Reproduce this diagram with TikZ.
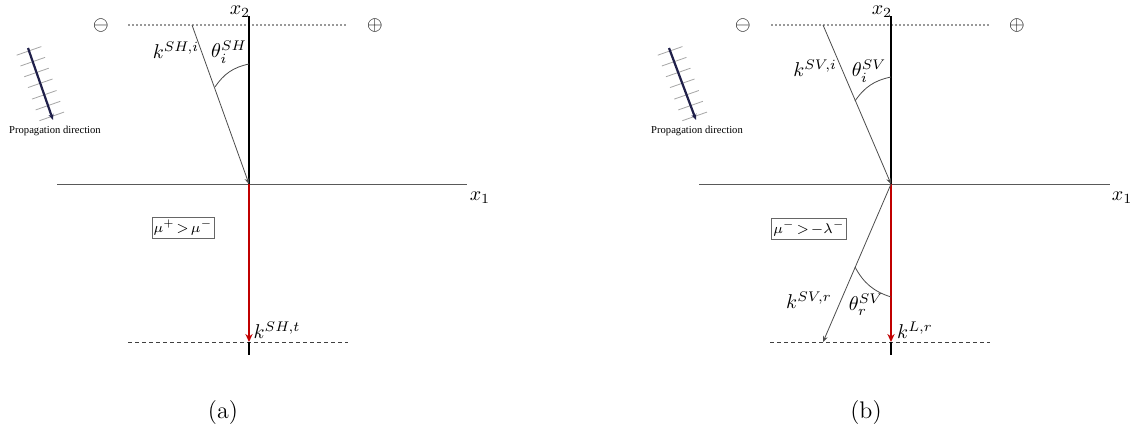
\documentclass[tikz,border=0pt]{standalone}
\usepackage{fontspec}
\newfontfamily\propfont{Liberation Serif}
\usetikzlibrary{arrows.meta,calc}
\definecolor{myred}{HTML}{C00000}
\definecolor{navy}{HTML}{20204A}
\tikzset{
  every node/.style={inner sep=0pt},
  axisline/.style={draw=black!65, line width=0.5pt},
  topdots/.style={draw=black!40, dash pattern=on 1pt off 1pt, line width=0.6pt},
  botdash/.style={draw=black!75, dash pattern=on 2pt off 1.5pt, line width=0.4pt},
  vline/.style={draw=black, line width=1.4pt},
  redvec/.style={draw=myred, line width=1.2pt, -{Stealth[length=4pt,width=3.6pt]}},
  thinvec/.style={draw=black!70, line width=0.4pt, -{Stealth[length=3pt,width=2.5pt]}},
  anglearc/.style={draw=black!70, line width=0.4pt},
  propvec/.style={draw=navy, line width=1.1pt, -{Stealth[length=3pt,width=2.5pt]}},
  hatch/.style={draw=black!35, line width=0.4pt},
  lab/.style={font=\fontsize{10}{12}\selectfont},
  proptext/.style={font=\propfont\fontsize{5.3}{6}\selectfont},
  condbox/.style={draw=black!60, line width=0.4pt, inner xsep=0.8pt, inner ysep=1.5pt, font=\fontsize{7.5}{8}\selectfont},
  caption/.style={font=\fontsize{12}{14}\selectfont},
}
\begin{document}
\begin{tikzpicture}[x=0.5pt,y=-0.5pt]
\useasboundingbox (0,0) rectangle (1143,429);

% ================= Panel (a) =================
\coordinate (aO) at (249,184);
\coordinate (aTop) at (249,16);
\coordinate (aRed) at (249,342);
\coordinate (aBot) at (249,355);
\coordinate (aL) at (57,184);
\coordinate (aR) at (467,184);
\coordinate (aDT1) at (128,25);
\coordinate (aDT2) at (347,25);
\coordinate (aDB1) at (128,342);
\coordinate (aDB2) at (348,342);
\coordinate (aI) at (192,25);
\coordinate (aA1) at (215,87);
\coordinate (aA2) at (249,64);
\coordinate (aP1) at (28,48);
\coordinate (aP2) at (53,120);

\draw[topdots] (aDT1) -- (aDT2);
\draw[botdash] (aDB1) -- (aDB2);
\draw[axisline] (aL) -- (aR);
\draw[vline] (aTop) -- (aO);
\draw[vline] (aRed) -- (aBot);
\draw[redvec] (aO) -- (aRed);
\draw[thinvec] (aI) -- (aO);
\draw[anglearc] (aA1) to[bend left=22] (aA2);
\foreach \t in {0.04,0.19,0.34,0.49,0.65,0.80,0.95}{
  \draw[hatch] ($(aP1)!\t!(aP2)+(-12.3,4.3)$) -- ($(aP1)!\t!(aP2)+(12.3,-4.3)$);
}
\draw[propvec] (aP1) -- (aP2);

\node[lab] (ax2) at (240,12) {$x_2$};
\node[lab] (ax1) at (480,198) {$x_1$};
\node[lab] (aminus) at (101,25) {$\ominus$};
\node[lab] (aplus) at (375,25) {$\oplus$};
\node[lab] (aki) at (176,50) {$k^{SH,i}$};
\node[lab] (ath) at (229,52) {$\theta_i^{SH}$};
\node[lab] (akt) at (277,330) {$k^{SH,t}$};
\node[condbox] (abox) at (183,228) {$\mu^{+}\mskip2mu{>}\mskip2mu\mu^{-}$};
\node[proptext] (aprop) at (55,131) {Propagation direction};
\node[caption] (acap) at (223,413) {(a)};

% ================= Panel (b) =================
\coordinate (bO) at (891,184);
\coordinate (bTop) at (891,16);
\coordinate (bRed) at (891,342);
\coordinate (bBot) at (891,355);
\coordinate (bL) at (699,184);
\coordinate (bR) at (1110,184);
\coordinate (bDT1) at (771,25);
\coordinate (bDT2) at (990,25);
\coordinate (bDB1) at (770,342);
\coordinate (bDB2) at (990,342);
\coordinate (bI) at (823,25);
\coordinate (bA1) at (855,101);
\coordinate (bA2) at (891,77);
\coordinate (bRf) at (823,342);
\coordinate (bB1) at (855,267);
\coordinate (bB2) at (891,297);
\coordinate (bP1) at (669,48);
\coordinate (bP2) at (696,120);

\draw[topdots] (bDT1) -- (bDT2);
\draw[botdash] (bDB1) -- (bDB2);
\draw[axisline] (bL) -- (bR);
\draw[vline] (bTop) -- (bO);
\draw[vline] (bRed) -- (bBot);
\draw[redvec] (bO) -- (bRed);
\draw[thinvec] (bI) -- (bO);
\draw[thinvec] (bO) -- (bRf);
\draw[anglearc] (bA1) to[bend left=22] (bA2);
\draw[anglearc] (bB1) to[bend right=22] (bB2);
\foreach \t in {0.04,0.19,0.34,0.49,0.65,0.80,0.95}{
  \draw[hatch] ($(bP1)!\t!(bP2)+(-12.3,4.3)$) -- ($(bP1)!\t!(bP2)+(12.3,-4.3)$);
}
\draw[propvec] (bP1) -- (bP2);

\node[lab] (bx2) at (882,12) {$x_2$};
\node[lab] (bx1) at (1122,198) {$x_1$};
\node[lab] (bminus) at (743,25) {$\ominus$};
\node[lab] (bplus) at (1017,25) {$\oplus$};
\node[lab] (bki) at (815,68) {$k^{SV,i}$};
\node[lab] (bth) at (869,71) {$\theta_i^{SV}$};
\node[lab] (bkr) at (809,300) {$k^{SV,r}$};
\node[lab] (bthr) at (866,305) {$\theta_r^{SV}$};
\node[lab] (bkl) at (915,330) {$k^{L,r}$};
\node[condbox] (bbox) at (809,229) {$\mu^{-}\mskip2mu{>}\mskip2mu{-}\lambda^{-}$};
\node[proptext] (bprop) at (697,131) {Propagation direction};
\node[caption] (bcap) at (866,413) {(b)};
\end{tikzpicture}
\end{document}
